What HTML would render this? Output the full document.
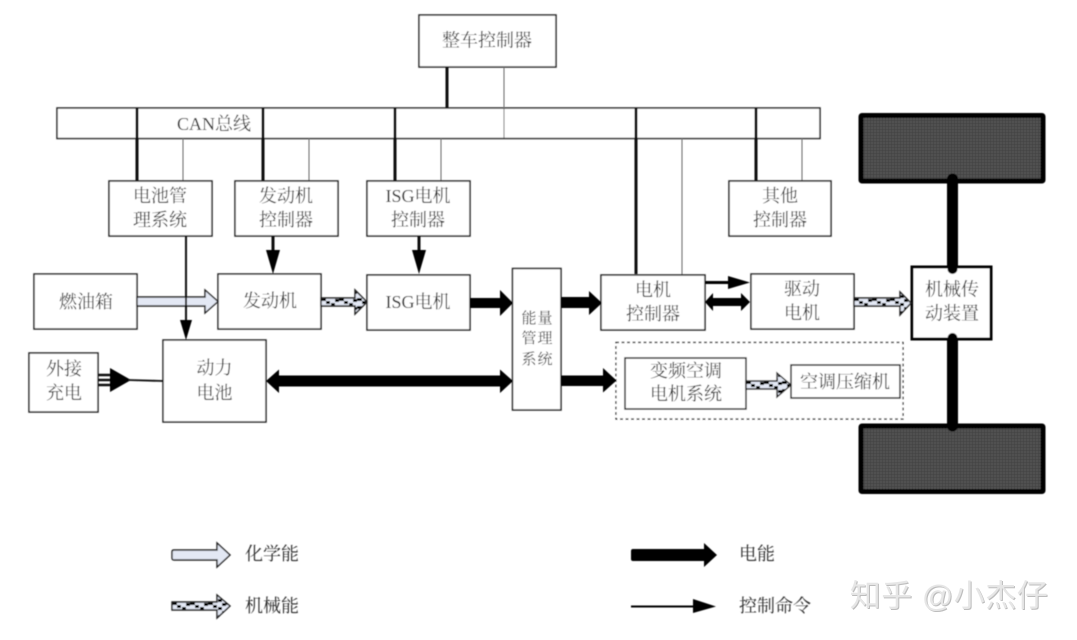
<!DOCTYPE html>
<html><head><meta charset="utf-8"><style>
html,body{margin:0;padding:0;background:#fff}
svg{display:block}
text{font-family:"Liberation Serif","Noto Serif CJK SC",serif;font-size:18px;fill:#2a2a2a;text-anchor:middle}
.b{fill:#fff;stroke:#222;stroke-width:1.5}
.k{stroke:#111;stroke-width:3;fill:none}
.t{stroke:#666;stroke-width:1;fill:none}
.c{fill:#e3e8f4;stroke:#222;stroke-width:1.4}
.h{fill:url(#ck);stroke:#222;stroke-width:1.4}
.e{font-size:15px;letter-spacing:1px}
</style></head><body>
<svg width="1077" height="640" viewBox="0 0 1077 640" xmlns="http://www.w3.org/2000/svg">
<defs>
<pattern id="ck" x="0" y="-4" width="18" height="8" patternUnits="userSpaceOnUse">
<rect width="18" height="8" fill="#e3e8f4"/>
<rect x="0" y="0" width="5" height="3" fill="#000"/><rect x="5" y="3" width="4" height="3" fill="#000"/><rect x="10" y="5" width="4" height="3" fill="#000"/><rect x="14" y="1" width="4" height="3" fill="#000"/>
</pattern>
<pattern id="wh" width="3" height="3" patternUnits="userSpaceOnUse">
<rect width="3" height="3" fill="#585858"/><rect width="1" height="3" fill="#404040"/><rect width="3" height="1" fill="#404040"/>
</pattern>
<filter id="soft"><feGaussianBlur stdDeviation="0.45"/></filter>
</defs>
<rect width="1077" height="640" fill="#fff"/>
<g filter="url(#soft)">
<!-- bus -->
<rect class="b" x="57" y="108" width="763" height="30.500"/>
<rect class="b" x="419" y="15" width="137" height="52"/>
<path class="k" d="M447 67V108M137 108V181M263 108V181M395 108V181M636 108V274M756 108V181"/>
<path class="t" d="M504 67V138M183 138V181M309 138V181M441 138V181M682 138V275M802 138V181"/>
<text x="214" y="130">CAN总线</text>
<text x="487" y="46.500">整车控制器</text>
<!-- controllers -->
<rect class="b" x="109" y="181" width="103" height="55"/>
<text x="160" y="202">电池管</text><text x="160" y="226">理系统</text>
<rect class="b" x="235" y="181" width="103" height="55"/>
<text x="286" y="202">发动机</text><text x="286" y="226">控制器</text>
<rect class="b" x="367" y="181" width="103" height="55"/>
<text x="418" y="202">ISG电机</text><text x="418" y="226">控制器</text>
<rect class="b" x="729" y="181" width="102" height="55"/>
<text x="780" y="202">其他</text><text x="780" y="226">控制器</text>
<!-- wheels & axle -->
<rect x="861" y="115.500" width="182" height="65.500" rx="1" fill="url(#wh)" stroke="#050505" stroke-width="5"/>
<rect x="861" y="426" width="182" height="65.500" rx="1" fill="url(#wh)" stroke="#050505" stroke-width="5"/>
<rect x="947" y="178" width="11" height="250" fill="#050505"/>
<circle cx="952.500" cy="179" r="5.500" fill="#050505"/>
<circle cx="952.500" cy="426" r="5.500" fill="#050505"/>
<rect class="b" x="912" y="267" width="79" height="72" style="stroke:#050505;stroke-width:3"/>
<circle cx="952.500" cy="269" r="5" fill="#050505"/><circle cx="952.500" cy="338" r="5" fill="#050505"/>
<text x="952" y="295.500">机械传</text><text x="952" y="319.500">动装置</text>
<!-- mid row -->
<rect class="b" x="34" y="274" width="103" height="55"/>
<text x="86" y="308">燃油箱</text>
<rect class="b" x="218" y="274" width="103" height="55"/>
<text x="270" y="307">发动机</text>
<rect class="b" x="367" y="275" width="103" height="55"/>
<text x="418" y="308">ISG电机</text>
<rect class="b" x="512.500" y="268.500" width="48.500" height="141.500"/>
<text class="e" x="537.500" y="323">能量</text>
<text class="e" x="537.500" y="343">管理</text>
<text class="e" x="537.500" y="364">系统</text>
<rect class="b" x="601" y="275" width="104" height="55"/>
<text x="653" y="296">电机</text><text x="653" y="320">控制器</text>
<rect class="b" x="751" y="274" width="103" height="55"/>
<text x="802" y="295">驱动</text><text x="802" y="319">电机</text>
<rect class="b" x="163" y="340" width="103" height="82"/>
<text x="214.500" y="374">动力</text><text x="214.500" y="399">电池</text>
<rect class="b" x="29" y="353" width="69" height="59"/>
<text x="64" y="375">外接</text><text x="64" y="399">充电</text>
<!-- AC group -->
<rect x="616" y="342.500" width="287" height="76.500" fill="#fff" stroke="#222" stroke-width="1.200" stroke-dasharray="3 2.500"/>
<rect class="b" x="625" y="358" width="121" height="51"/>
<text x="686" y="377">变频空调</text><text x="686" y="400">电机系统</text>
<rect class="b" x="791" y="365" width="109" height="33"/>
<text x="845" y="388">空调压缩机</text>
<!-- chemical -->
<path class="c" d="M137 297H205V290L218 301.500L205 313V306H137Z"/>
<!-- control arrows -->
<path d="M186 236V322" style="stroke:#111;stroke-width:2;fill:none"/>
<path d="M180 320H192L186 340Z" fill="#050505"/>
<path class="k" d="M273 236V254M419 236V254"/>
<path d="M266 250H280L273 274ZM412 250H426L419 274Z" fill="#050505"/>
<!-- mechanical -->
<g transform="translate(321,302)"><path class="h" d="M0 -4H34V-12L46 0L34 12V4H0Z"/></g>
<g transform="translate(854,302)"><path class="h" d="M0 -4H46V-10L57 1L46 13V4H0Z"/></g>
<g transform="translate(746,385)"><path class="h" d="M0 -4H31V-12L45 0L31 12V4H0Z"/></g>
<!-- electric -->
<path d="M470 298H500V290L513 303L500 316V308H470Z" fill="#050505"/>
<path d="M561 297H589V291L602 303L589 315V308H561Z" fill="#050505"/>
<path d="M561 375.500H603V368L616.500 380.500L603 392.500V386H561Z" fill="#050505"/>
<path d="M266 381L279 369.500V375.500H500V369.500L513 381L500 393V386.500H279V393Z" fill="#050505"/>
<path d="M705 302L713 293V298H741V293L750 302L741 311V306H713V311Z" fill="#050505"/>
<path d="M705 281H728V276L750 282.500L728 289V284H705Z" fill="#050505"/>
<!-- external charge -->
<path d="M98 375H112M98 380H112M98 385H112" stroke="#111" stroke-width="2.500"/>
<path d="M110 368L131 380L110 392Z" fill="#050505"/>
<path d="M128 380L163 381" stroke="#111" stroke-width="1.800"/>
<!-- legend -->
<path class="c" d="M174 550H217V543L230 555L217 567V560H174Q172 560 172 558V552Q172 550 174 550Z"/>
<text x="272" y="560">化学能</text>
<g transform="translate(172,606)"><path class="h" d="M0 -4H45V-11L58 0L45 12V4H0Z"/></g>
<text x="272" y="612">机械能</text>
<path d="M633 549H704V543L717 555L704 567V561H633Q631 561 631 559V551Q631 549 633 549Z" fill="#050505"/>
<text x="757" y="560">电能</text>
<path d="M631 605.500H693V599L716 606.500L693 613V607.500H631Z" fill="#050505"/>
<text x="775" y="612">控制命令</text>
</g>
<!-- watermark -->
<text x="950" y="607.500" style="font-family:'Liberation Sans','Noto Sans CJK SC',sans-serif;font-size:31px;fill:#bdbdbd;letter-spacing:0.500px">知乎 @小杰仔</text>
<text x="949" y="606.500" style="font-family:'Liberation Sans','Noto Sans CJK SC',sans-serif;font-size:31px;fill:#e6e6e6;letter-spacing:0.500px">知乎 @小杰仔</text>
</svg>
</body></html>
